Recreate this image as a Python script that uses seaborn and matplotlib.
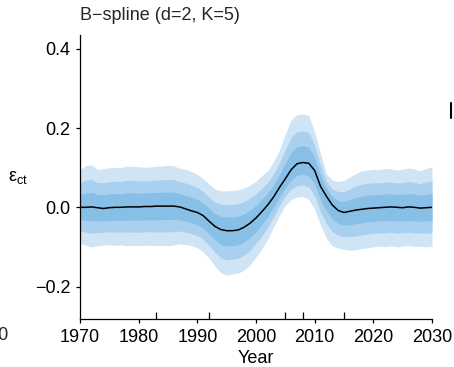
import numpy as np
import pandas as pd
import matplotlib
matplotlib.use("Agg")
import matplotlib.pyplot as plt
import seaborn as sns
from matplotlib.lines import Line2D

# data

years = list(range(1970, 2031))

median = [0.000, 0.000, 0.001, -0.001, -0.003, -0.001, 0.000, 0.000, 0.001, 0.001,
          0.001, 0.002, 0.002, 0.003, 0.003, 0.003, 0.003, 0.001, -0.004, -0.009,
          -0.013, -0.021, -0.035, -0.048, -0.056, -0.059, -0.059, -0.057, -0.050, -0.040,
          -0.027, -0.011, 0.006, 0.026, 0.050, 0.072, 0.095, 0.110, 0.113, 0.111,
          0.093, 0.053, 0.028, 0.006, -0.008, -0.013, -0.010, -0.007, -0.005, -0.003,
          -0.002, -0.001, 0.000, 0.001, 0.000, -0.001, 0.001, 0.000, -0.002, -0.001,
          0.000]

outer_upper = [0.095, 0.105, 0.107, 0.096, 0.097, 0.100, 0.101, 0.100, 0.104, 0.103,
               0.102, 0.101, 0.102, 0.104, 0.104, 0.106, 0.105, 0.098, 0.096, 0.090,
               0.083, 0.072, 0.058, 0.046, 0.042, 0.041, 0.043, 0.044, 0.049, 0.056,
               0.066, 0.080, 0.092, 0.115, 0.145, 0.185, 0.220, 0.234, 0.235, 0.231,
               0.190, 0.135, 0.085, 0.068, 0.065, 0.068, 0.076, 0.085, 0.092, 0.094,
               0.096, 0.095, 0.098, 0.097, 0.094, 0.096, 0.099, 0.097, 0.092, 0.098,
               0.102]

outer_lower = [-0.091, -0.096, -0.100, -0.097, -0.095, -0.094, -0.096, -0.095, -0.097, -0.096,
               -0.097, -0.096, -0.095, -0.097, -0.096, -0.097, -0.095, -0.092, -0.094, -0.097,
               -0.102, -0.113, -0.128, -0.148, -0.165, -0.171, -0.168, -0.166, -0.158, -0.145,
               -0.125, -0.105, -0.080, -0.050, -0.020, 0.005, 0.020, 0.026, 0.027, 0.020,
               -0.005, -0.045, -0.078, -0.097, -0.103, -0.106, -0.108, -0.107, -0.104, -0.102,
               -0.100, -0.098, -0.099, -0.097, -0.100, -0.098, -0.097, -0.099, -0.098, -0.100,
               -0.098]

# 95%, 80%, 50% intervals as a share of the outer (95%) spread
band_levels = [1.0, 0.653, 0.344]
band_colors = ["#cfe4f4", "#a9d0ee", "#88bfe7"]

knots = [1983, 1992, 2005, 2008, 2015]
x_ticks = [1970, 1980, 1990, 2000, 2010, 2020, 2030]
y_ticks = [-0.2, 0.0, 0.2, 0.4]
y_ticklabels = ["\u22120.2", "0.0", "0.2", "0.4"]

df = pd.DataFrame({"Year": years, "median": median,
                   "upper": outer_upper, "lower": outer_lower})

# style

sns.set_theme(style="ticks")
plt.rcParams["font.family"] = ["Liberation Sans", "DejaVu Sans"]
plt.rcParams["font.size"] = 13

fig = plt.figure(figsize=(4.54, 3.67), dpi=100)
ax = fig.add_axes([0.1762, 0.1308, 0.7753, 0.7738])

# credible bands, widest first
for lev, col in zip(band_levels, band_colors):
    hi = df["median"] + lev * (df["upper"] - df["median"])
    lo = df["median"] + lev * (df["lower"] - df["median"])
    ax.fill_between(df["Year"], lo, hi, color=col, linewidth=0)

sns.lineplot(data=df, x="Year", y="median", color="black", linewidth=1.1, ax=ax)

ax.set_xlim(1970, 2030)
ax.set_ylim(-0.2817, 0.4346)
ax.set_xticks(x_ticks)
ax.set_xticklabels([str(t) for t in x_ticks])
ax.set_yticks(y_ticks)
ax.set_yticklabels(y_ticklabels)
ax.set_xticks(knots, minor=True)

ax.tick_params(axis="both", which="major", direction="out", length=3, width=0.9,
               color="black", labelsize=13, labelcolor="black", pad=4)
ax.tick_params(axis="x", which="minor", direction="in", length=4.8, width=0.9,
               color="black")

for s in ["top", "right"]:
    ax.spines[s].set_visible(False)
for s in ["left", "bottom"]:
    ax.spines[s].set_color("black")
    ax.spines[s].set_linewidth(0.9)

ax.set_xlabel("Year", fontsize=13, color="black", labelpad=3)
ax.set_ylabel("\u03b5$_{\\mathregular{ct}}$", fontsize=13, color="black",
              rotation=0, ha="center", va="center")
ax.yaxis.set_label_coords(-0.176, 0.5)
ax.set_title("B\u2212spline (d=2, K=5)", loc="left", fontsize=13, pad=11)

# fragments of the neighbouring panels
fig.text(8 / 454, 1 - 336 / 367, "2030", ha="right", va="center", fontsize=13)
fig.add_artist(Line2D([451 / 454, 451 / 454], [1 - 103 / 367, 1 - 118 / 367],
                      color="black", linewidth=1.5, transform=fig.transFigure))

fig.savefig("out.png", dpi=100)
